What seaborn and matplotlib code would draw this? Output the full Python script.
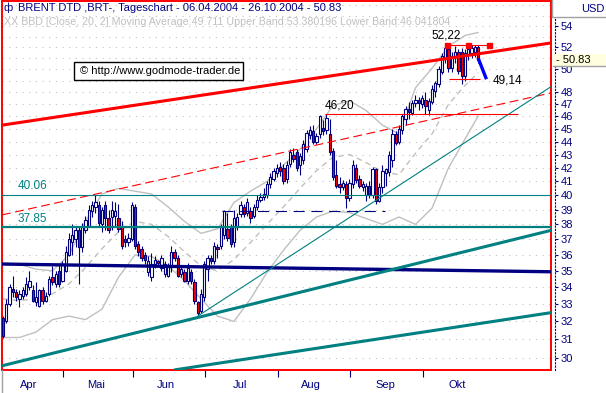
import numpy as np
import matplotlib
matplotlib.use("Agg")
import matplotlib.pyplot as plt
import seaborn as sns
from matplotlib.lines import Line2D
from matplotlib.patches import Rectangle
from matplotlib.ticker import NullLocator

# BRENT DTD Tageschart 06.04.2004 - 26.10.2004, eine Kerze pro Handelstag
opens = [32.2, 32.0, 33.0, 33.9, 33.7, 33.3, 33.5, 33.6, 34.0, 33.8,
         33.1, 32.9, 33.8, 33.2, 33.6, 34.6, 34.2, 35.0, 34.4, 35.0,
         36.0, 36.8, 37.0, 37.6, 36.5, 37.6, 37.9, 38.9, 39.2, 39.3,
         38.0, 39.3, 38.4, 38.5, 38.6, 38.4, 37.9, 37.0, 36.8, 37.0,
         39.2, 36.7, 36.4, 36.0, 34.9, 34.6, 35.4, 35.6, 35.2, 34.8,
         34.7, 35.3, 36.2, 35.8, 34.8, 34.9, 34.4, 34.9, 34.3, 33.1,
         32.6, 33.4, 35.1, 35.8, 35.6, 36.5, 36.6, 37.3, 37.7, 37.8,
         36.8, 37.8, 38.7, 39.2, 38.8, 38.9, 38.6, 39.2, 39.7, 39.9,
         40.0, 40.8, 41.2, 41.6, 42.1, 42.0, 41.2, 42.3, 43.0, 43.2,
         42.2, 42.6, 43.4, 44.5, 44.8, 44.0, 44.6, 45.1, 44.9, 44.6,
         43.3, 41.5, 40.8, 40.6, 40.8, 39.8, 40.8, 42.0, 41.2, 40.6,
         40.0, 40.7, 40.0, 41.9, 39.6, 40.6, 41.6, 41.7, 42.6, 44.6,
         44.0, 44.9, 45.8, 46.6, 46.3, 47.1, 47.4, 47.0, 47.4, 46.5,
         47.2, 48.1, 48.7, 49.8, 51.0, 51.8, 50.1, 51.2, 51.6, 51.6,
         49.4, 51.4, 51.5, 51.6, 52.0]
highs = [32.3, 33.3, 34.2, 34.7, 33.9, 33.8, 34.0, 34.6, 35.0, 34.1,
         34.3, 33.9, 34.0, 33.7, 34.7, 35.3, 35.0, 35.4, 35.6, 36.6,
         37.4, 38.0, 37.8, 37.9, 38.1, 38.6, 39.3, 39.6, 40.06, 39.6,
         39.2, 39.6, 39.0, 39.6, 39.5, 39.4, 38.2, 37.3, 37.4, 39.5,
         39.4, 36.9, 36.6, 36.2, 35.9, 36.1, 35.9, 35.7, 36.0, 35.6,
         35.5, 36.6, 36.4, 36.0, 35.3, 35.1, 35.5, 35.1, 34.5, 33.2,
         33.9, 35.6, 36.0, 36.0, 36.8, 36.7, 38.0, 39.0, 38.8, 38.0,
         39.0, 38.8, 39.6, 39.4, 39.8, 39.2, 39.4, 40.0, 40.2, 40.5,
         41.0, 41.6, 42.0, 42.3, 42.4, 42.3, 42.5, 43.4, 43.5, 43.4,
         43.1, 44.1, 44.9, 45.2, 45.3, 44.7, 46.1, 45.7, 46.2, 45.8,
         43.5, 42.6, 41.3, 41.1, 41.0, 41.2, 42.6, 42.3, 41.5, 41.0,
         40.9, 41.0, 42.1, 42.0, 40.9, 42.2, 42.0, 43.3, 45.0, 44.8,
         45.3, 46.2, 46.9, 47.2, 47.4, 47.8, 47.6, 47.8, 48.0, 47.5,
         48.6, 49.0, 50.3, 51.5, 52.22, 52.1, 51.6, 52.1, 51.8, 51.9,
         51.8, 52.0, 52.2, 52.2, 52.2]
lows = [31.05, 31.9, 32.9, 33.4, 33.2, 32.8, 33.3, 33.5, 33.8, 33.1,
        32.9, 32.8, 33.0, 33.1, 33.5, 34.1, 34.0, 34.0, 34.3, 34.9,
        35.9, 36.0, 36.5, 34.2, 36.2, 37.4, 37.8, 38.5, 38.8, 37.9,
        37.5, 37.6, 37.4, 37.6, 37.8, 37.5, 36.4, 36.5, 36.6, 36.9,
        36.4, 35.9, 35.6, 35.4, 34.7, 34.4, 35.2, 35.3, 35.0, 34.6,
        34.6, 34.9, 35.6, 34.6, 34.6, 34.3, 34.2, 34.2, 33.0, 32.3,
        32.5, 33.2, 34.4, 35.4, 35.4, 35.8, 36.4, 37.0, 36.9, 36.5,
        36.5, 37.6, 38.5, 38.5, 38.6, 38.1, 38.4, 39.0, 39.5, 39.7,
        39.8, 40.5, 41.0, 41.3, 41.4, 40.8, 40.9, 42.1, 42.4, 41.8,
        41.5, 42.3, 43.2, 44.2, 43.8, 43.8, 44.3, 44.5, 44.6, 43.0,
        41.1, 40.5, 40.2, 40.4, 39.1, 39.6, 40.5, 40.9, 40.5, 40.3,
        39.6, 39.8, 39.8, 39.4, 39.5, 40.2, 40.7, 41.4, 42.1, 43.7,
        43.8, 44.6, 45.3, 45.8, 46.1, 46.8, 46.5, 46.7, 46.2, 46.1,
        47.0, 47.6, 48.5, 49.6, 50.6, 49.8, 49.8, 50.6, 49.6, 48.7,
        49.0, 50.8, 51.0, 51.1, 50.6]
closes = [31.2, 33.0, 34.0, 33.7, 33.4, 33.6, 33.8, 34.2, 34.4, 33.2,
          33.4, 33.8, 33.2, 33.5, 34.5, 34.3, 34.8, 34.2, 35.4, 36.2,
          37.0, 37.3, 37.6, 36.5, 37.9, 38.3, 39.0, 39.3, 39.5, 38.1,
          39.0, 38.4, 37.6, 39.0, 38.9, 37.7, 36.6, 36.8, 37.1, 39.3,
          36.6, 36.2, 35.8, 35.7, 35.6, 35.4, 35.7, 35.5, 35.8, 35.4,
          35.3, 36.2, 35.8, 34.7, 35.1, 34.4, 35.2, 34.4, 33.2, 32.5,
          33.6, 35.4, 35.8, 35.6, 36.6, 36.4, 37.8, 38.9, 37.1, 36.7,
          38.4, 38.5, 39.3, 38.7, 39.5, 38.4, 39.2, 39.7, 39.9, 40.1,
          40.8, 41.3, 41.8, 42.0, 41.8, 41.0, 42.2, 43.2, 42.7, 42.0,
          42.9, 43.8, 44.7, 44.9, 44.0, 44.4, 46.0, 44.8, 45.9, 43.2,
          41.3, 40.7, 40.6, 40.9, 39.8, 40.9, 42.2, 41.1, 40.7, 40.8,
          40.7, 40.0, 41.9, 39.6, 40.6, 41.8, 41.9, 43.0, 44.6, 43.9,
          45.0, 46.0, 46.6, 46.4, 47.1, 47.4, 47.1, 47.5, 46.9, 47.3,
          48.3, 48.8, 50.0, 51.2, 51.9, 50.1, 51.2, 51.6, 49.9, 49.4,
          51.5, 51.8, 51.9, 52.0, 50.83]

bb_idx = [0, 5, 10, 15, 20, 25, 30, 35, 40, 45, 50, 55, 60, 65, 70,
          75, 80, 85, 90, 95, 100, 105, 110, 115, 120, 125, 130, 135, 140, 144]
bb_upper = [35.5, 35.4, 35.1, 35.0, 36.0, 38.2, 40.1, 40.5, 40.3, 40.1,
            39.2, 38.2, 37.4, 37.7, 39.5, 40.3, 41.0, 42.2, 43.4, 45.0,
            46.9, 47.3, 46.5, 45.3, 44.6, 48.4, 50.1, 52.1, 53.1, 53.38]
bb_mid = [33.3, 33.2, 33.3, 33.6, 34.2, 35.2, 36.4, 37.5, 38.2, 38.0,
          37.2, 36.2, 35.3, 35.0, 35.7, 36.8, 38.0, 39.2, 40.5, 41.8,
          42.8, 43.0, 42.4, 41.7, 41.5, 43.1, 44.6, 47.0, 48.6, 49.711]
bb_lower = [31.1, 31.1, 31.4, 32.1, 32.3, 32.1, 32.7, 34.6, 36.0, 35.9,
            35.3, 34.4, 33.3, 32.3, 32.0, 33.3, 34.9, 36.3, 37.6, 38.5,
            38.9, 38.8, 38.4, 38.0, 38.5, 38.0, 39.1, 42.0, 44.2, 46.04]

# Monatsgrenzen / Monatsnamen (Kerzen-Index)
month_ticks = [18.1, 39.3, 61.2, 83.2, 105.3, 127.4]
month_label_pos = [7.9, 28.2, 49.4, 71.8, 93.3, 115.8, 137.6]
month_labels = ['Apr', 'Mai', 'Jun', 'Jul', 'Aug', 'Sep', 'Okt']
price_ticks = [30, 31, 32, 33, 34, 35, 36, 37, 38, 39, 40, 41, 42, 43, 44,
               45, 46, 47, 48, 50, 52, 54]

# Trendlinien [x0, p0, x1, p1]
red_channel = [-0.3, 45.3, 166.1, 52.4]
red_dashed = [-0.3, 38.64, 166.1, 47.96]
navy_line = [-0.3, 35.42, 166.1, 34.94]
teal_upper = [-0.3, 29.58, 166.1, 37.6]
teal_lower = [51.8, 29.36, 166.1, 32.5]
teal_thin = [59, 32.3, 166.1, 48.5]
blue_arrow = [144, 51.0, 146.5, 49.14]
last_close = 50.83

NAVY = '#000080'
RED = '#ff0000'
TEAL = '#008080'
GRAY = '#c0c0c0'

sns.set_style('white')
plt.rcParams['font.family'] = ['Liberation Sans', 'DejaVu Sans']
plt.rcParams['font.size'] = 8

W, H = 606, 393
fig = plt.figure(figsize=(W / 100, H / 100), dpi=100)
ax = fig.add_axes([2 / W, 23 / H, 549 / W, 369 / H])
ax.set_yscale('log')
ax.set_xlim(-0.3, 166.06)
ax.set_ylim(29.36, 56.44)

# punktiertes Gitter auf ganzen Dollar
ax.set_yticks(list(range(30, 57)))
ax.yaxis.set_minor_locator(NullLocator())
ax.tick_params(axis='y', length=0, labelleft=False)
ax.grid(True, axis='y', color=GRAY, lw=0.8, linestyle=(0, (1, 5)))
ax.grid(False, axis='x')
ax.set_axisbelow(True)

# Bollinger Band
sns.lineplot(x=bb_idx, y=bb_upper, ax=ax, color=GRAY, lw=1, zorder=1)
sns.lineplot(x=bb_idx, y=bb_lower, ax=ax, color=GRAY, lw=1, zorder=1)
sns.lineplot(x=bb_idx, y=bb_mid, ax=ax, color=GRAY, lw=1, zorder=1,
             linestyle=(0, (4, 3)))

# Kerzen
days = np.arange(len(closes))
o = np.array(opens)
c = np.array(closes)
ax.vlines(days, lows, highs, color=NAVY, lw=0.8, zorder=3)
ax.bar(days, np.maximum(np.abs(c - o), 0.02), bottom=np.minimum(o, c), width=0.72,
       color=np.where(c >= o, 'white', RED), edgecolor=NAVY, linewidth=0.8, zorder=4)


def seg(line, **kw):
    ax.plot([line[0], line[2]], [line[1], line[3]], solid_capstyle='butt', **kw)


seg(red_channel, color=RED, lw=2.2, zorder=6)
seg(red_dashed, color=RED, lw=0.8, linestyle=(0, (8, 4)), zorder=6)
seg(navy_line, color=NAVY, lw=2.4, zorder=6)
seg(teal_upper, color=TEAL, lw=2.2, zorder=6)
seg(teal_lower, color=TEAL, lw=2.2, zorder=6)
seg(teal_thin, color=TEAL, lw=0.8, zorder=6)

ax.axhline(40.06, color=TEAL, lw=0.8, zorder=6)
ax.axhline(37.85, color=TEAL, lw=1.6, zorder=6)
ax.hlines(38.9, 66.4, 115.8, color=NAVY, lw=0.8, linestyle=(0, (10, 6)), zorder=6)
ax.hlines(46.2, 97.6, 156, color=RED, lw=0.8, zorder=6)
ax.hlines(49.14, 135.2, 144.5, color=RED, lw=0.8, zorder=6)
ax.plot([134.5, 140.9, 147.3], [52.22] * 3, color=RED, lw=0.8,
        marker='s', ms=3.6, zorder=6)
seg(blue_arrow, color='#0000ff', lw=2.4, zorder=7)

ax.annotate('40.06', (4.5, 40.06), xytext=(0, 1.5), textcoords='offset points',
            color=TEAL, va='bottom', fontsize=8.5)
ax.annotate('37.85', (4.5, 37.85), xytext=(0, 1.5), textcoords='offset points',
            color=TEAL, va='bottom', fontsize=8.5)
ax.annotate('46,20', (102.1, 46.2), xytext=(0, 1.5), textcoords='offset points',
            color='black', va='bottom', ha='center', fontsize=8.5)
ax.annotate('52,22', (134.2, 52.22), xytext=(0, 2.5), textcoords='offset points',
            color='black', va='bottom', ha='center', fontsize=8.5)
ax.annotate('49,14', (148.5, 49.14), xytext=(0, -1), textcoords='offset points',
            color='black', va='center', ha='left', fontsize=8.5)

# Datumsachse
ax.set_xticks(month_ticks)
ax.set_xticklabels([''] * len(month_ticks))
ax.set_xticks(month_label_pos, minor=True)
ax.set_xticklabels(month_labels, minor=True)
ax.tick_params(axis='x', which='major', direction='out', length=5, width=0.8,
               color=NAVY, bottom=True)
ax.tick_params(axis='x', which='minor', length=0, pad=7, labelcolor=NAVY,
               labelsize=8, bottom=True)
for sp in ax.spines.values():
    sp.set_color(RED)
    sp.set_linewidth(1.4)

# Preisachse rechts
ax_r = fig.add_axes([553 / W, 23 / H, 2 / W, 369 / H])
ax_r.set_yscale('log')
ax_r.set_ylim(29.36, 56.44)
ax_r.set_facecolor('none')
ax_r.set_xticks([])
ax_r.set_yticks(price_ticks)
ax_r.set_yticklabels([str(t) for t in price_ticks])
ax_r.yaxis.set_minor_locator(NullLocator())
ax_r.yaxis.tick_right()
ax_r.tick_params(axis='y', direction='out', length=2.5, width=0.8, color=NAVY,
                 labelcolor=NAVY, labelsize=8, pad=1.5)
for name in ['left', 'top', 'bottom']:
    ax_r.spines[name].set_visible(False)
ax_r.spines['right'].set_color(NAVY)
ax_r.spines['right'].set_linestyle((0, (1, 2)))
ax_r.spines['right'].set_linewidth(0.8)
ax_r.spines['right'].set_bounds(29.36, 54.8)


def px(x, y):
    return x / W, 1 - y / H


# Kopfzeilen
fig.text(*px(4, 8), 'ф', color=NAVY, va='center', fontsize=8)
fig.text(*px(18, 8), 'BRENT DTD ,BRT-, Tageschart - 06.04.2004 - 26.10.2004 - 50.83',
         color=NAVY, va='center', fontsize=8)
fig.text(*px(4, 22), 'XX BBD [Close, 20, 2] Moving Average:49.711 '
         'Upper Band:53.380196 Lower Band:46.041804', color=GRAY, va='center',
         fontsize=7.7)

fig.add_artist(Rectangle(px(74, 80), 169 / W, 18 / H, transform=fig.transFigure,
                         facecolor='white', edgecolor='black', lw=1, zorder=5))
fig.text(*px(80, 71), '© http://www.godmode-trader.de', color='black',
         va='center', fontsize=8, zorder=6)

fig.text(*px(604, 9), 'USD', color=NAVY, ha='right', va='center', fontsize=8)
fig.add_artist(Line2D([552 / W, 1], [1 - 17 / H] * 2, transform=fig.transFigure,
                      color='#a0a0a0', lw=1))
fig.add_artist(Line2D([552 / W] * 2, [1, 1 - 17 / H], transform=fig.transFigure,
                      color='#a0a0a0', lw=1))
fig.add_artist(Rectangle(px(553, 66), 53 / W, 12 / H, transform=fig.transFigure,
                         facecolor='#ffffe0', edgecolor='none', zorder=5))
fig.add_artist(Line2D([553 / W, 1], [1 - 66 / H] * 2, transform=fig.transFigure,
                      color='#a0a0a0', lw=1, zorder=6))
fig.text(*px(556, 60), '- %.2f' % last_close, color='black', va='center',
         fontsize=8, zorder=7)
fig.add_artist(Line2D([2 / W] * 2, [0, 23 / H], transform=fig.transFigure,
                      color='#a0a0a0', lw=1))

fig.savefig('out.png', dpi=100)
